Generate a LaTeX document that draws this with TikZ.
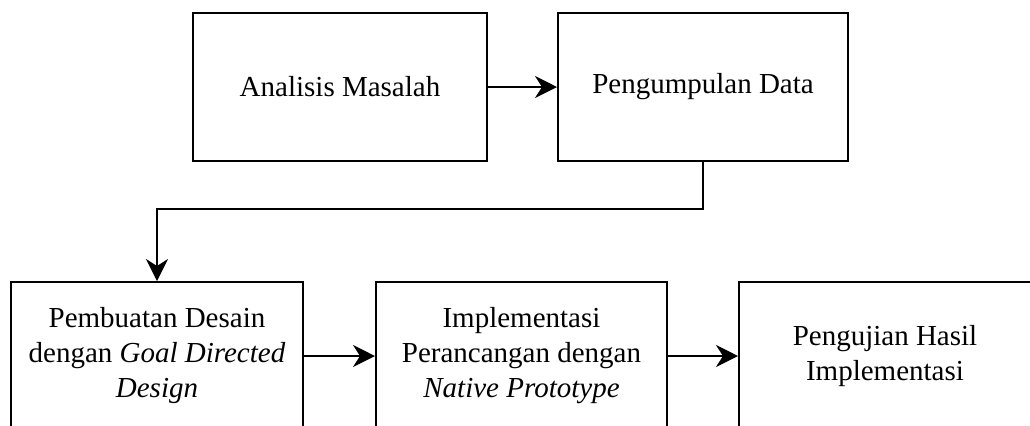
\documentclass[tikz,border=0pt]{standalone}
\usepackage{fontspec}
\setmainfont{Liberation Serif}
\usetikzlibrary{arrows.meta}
\begin{document}
\begin{tikzpicture}[x=0.5pt,y=-0.5pt,
  box/.style={draw,line width=1pt,minimum width=146pt,minimum height=74pt,align=center,inner sep=0pt,
    font=\fontsize{14.5}{17.5}\selectfont},
  arr/.style={line width=1pt,-{Stealth[length=11pt,width=11pt,inset=3.5pt]}}]
\useasboundingbox (0,0) rectangle (1030,425);
\clip (0,0) rectangle (1030,425);
\node[box,minimum width=147pt] (b1) at (340,87) {Analisis Masalah};
\node[box,minimum width=145pt] (b2) at (703,87) {Pengumpulan Data};
\node[box] (b3) at (157,356) {Pembuatan Desain\\dengan \textit{Goal Directed}\\\textit{Design}};
\node[box,minimum width=145.5pt] (b4) at (521.5,356) {Implementasi\\Perancangan dengan\\\textit{Native Prototype}};
\node[box] (b5) at (885,356) {Pengujian Hasil\\Implementasi};
\coordinate (m) at (703,209);
\draw[arr] (b1) -- (b2);
\draw[arr] (b2.south) -- (m) -| (b3.north);
\draw[arr] (b3) -- (b4);
\draw[arr] (b4) -- (b5);
\end{tikzpicture}
\end{document}
